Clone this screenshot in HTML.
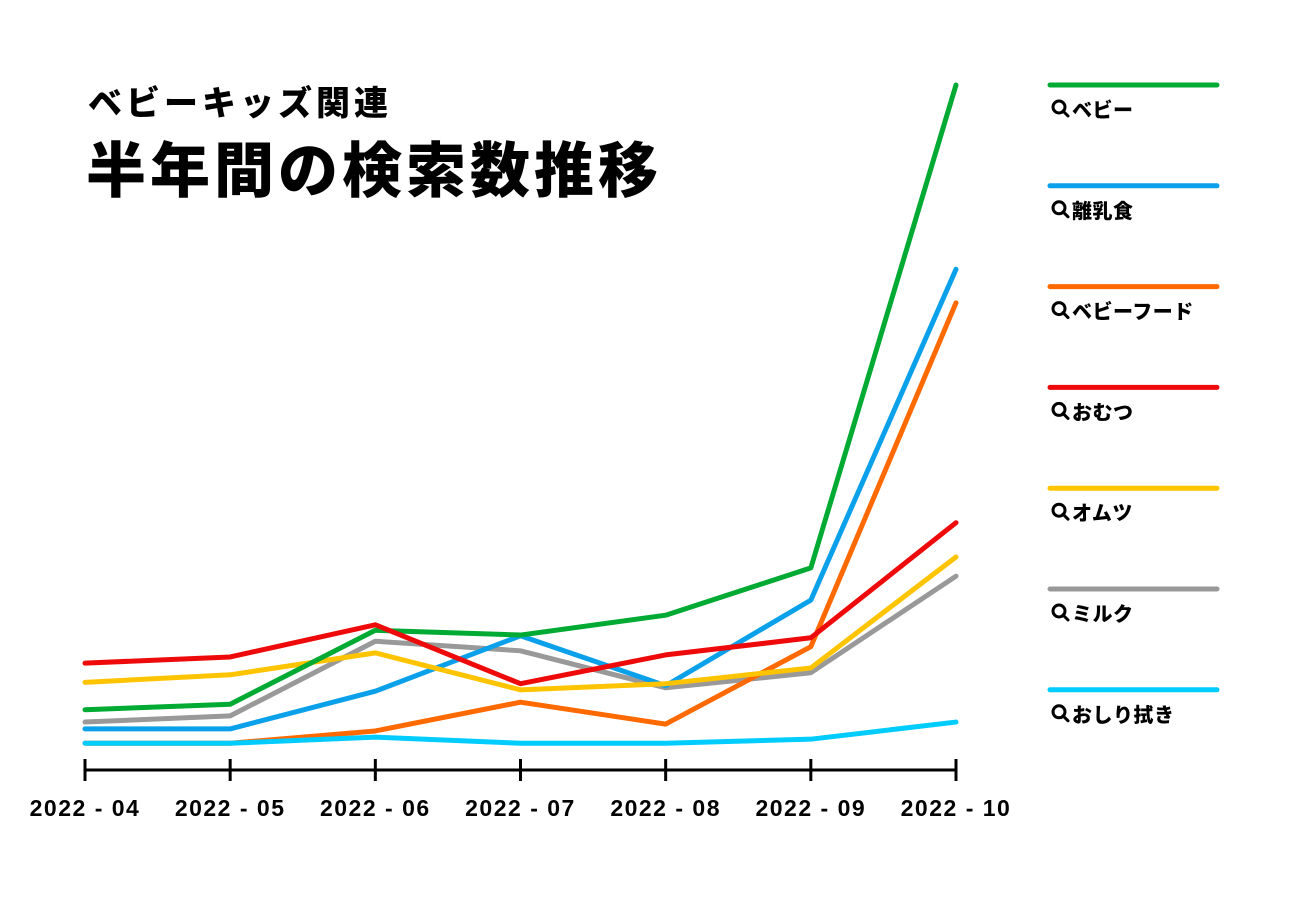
<!DOCTYPE html>
<html><head><meta charset="utf-8"><style>
body{margin:0;background:#fff;}
svg{display:block;font-family:"Liberation Sans","Noto Sans CJK JP",sans-serif;}
</style></head><body>
<svg id="chart" width="1301" height="900" viewBox="0 0 1301 900">
<text x="88" y="115" font-size="34" font-weight="900" letter-spacing="4" fill="#000">ベビーキッズ関連</text>
<text x="86" y="192" font-size="60" font-weight="900" letter-spacing="4" fill="#000">半年間の検索数推移</text>
<g id="axis"></g><g id="lines"></g><g id="legend"></g>
</svg>
<script>
const categories=["2022 - 04","2022 - 05","2022 - 06","2022 - 07","2022 - 08","2022 - 09","2022 - 10"];
const seriesNames=["ベビー","離乳食","ベビーフード","おむつ","オムツ","ミルク","おしり拭き"];
const seriesColors=["#00aa33","#0aa0ea","#ff6a00","#ee0a0a","#ffc400","#999999","#00ccff"];
const baby=[8.8,9.6,20.4,19.7,22.6,29.5,100];
const babyFoodJ=[6.0,6.0,11.5,19.6,12.3,24.8,73.1];
const babyFood=[3.9,3.9,5.7,9.9,6.7,18.0,68.2];
const omutsuH=[15.6,16.5,21.2,12.6,16.8,19.3,36.1];
const omutsuK=[12.8,13.9,17.1,11.7,12.6,14.9,31.1];
const milk=[7.0,7.9,18.8,17.4,12.0,14.2,28.3];
const wipes=[3.9,3.9,4.8,3.9,3.9,4.5,7.0];
const allSeries=[baby,babyFoodJ,babyFood,omutsuH,omutsuK,milk,wipes];
const NS="http://www.w3.org/2000/svg";
const xS=i=>85+i*(956-85)/(categories.length-1);
const yS=v=>770-v*6.85;
const axis=document.getElementById('axis');
function mk(tag,attrs,parent){const e=document.createElementNS(NS,tag);for(const k in attrs)e.setAttribute(k,attrs[k]);parent.appendChild(e);return e;}
const al=mk('line',{x1:85,x2:956,y1:770,y2:770,stroke:'#000','stroke-width':3},axis);


categories.forEach((c,i)=>{
 const t=mk('line',{x1:xS(i),x2:xS(i),y1:759,y2:781,stroke:'#000','stroke-width':3},axis);
 
 
 const l=mk('text',{x:xS(i),y:816,'text-anchor':'middle','font-size':23,'font-weight':'900','letter-spacing':1.5,fill:'#000'},axis);
 l.textContent=c;
 
 
});
const order=[5,2,6,1,4,0,3];
const lines=document.getElementById('lines');
order.forEach(si=>{
 const pts=allSeries[si].map((v,i)=>xS(i)+','+yS(v)).join(' ');
 const p=mk('polyline',{points:pts,fill:'none',stroke:seriesColors[si],'stroke-width':5,'stroke-linejoin':'round','stroke-linecap':'round'},lines);
 
 
});
const lg=document.getElementById('legend');
seriesNames.forEach((n,i)=>{
 const y=85+i*100.8;
 const g=mk('g',{},lg);
 
 
 mk('line',{x1:1050,x2:1217,y1:y,y2:y,stroke:seriesColors[i],'stroke-width':5,'stroke-linecap':'round'},g);
 mk('circle',{cx:1059,cy:y+22,r:6,fill:'none',stroke:'#000','stroke-width':3},g);
 mk('line',{x1:1063,y1:y+26,x2:1068,y2:y+31,stroke:'#000','stroke-width':3,'stroke-linecap':'round'},g);
 const t=mk('text',{x:1072,y:y+32,'font-size':20,'font-weight':'900','letter-spacing':0.5,fill:'#000'},g);
 t.textContent=n;
});
</script>
</body></html>
